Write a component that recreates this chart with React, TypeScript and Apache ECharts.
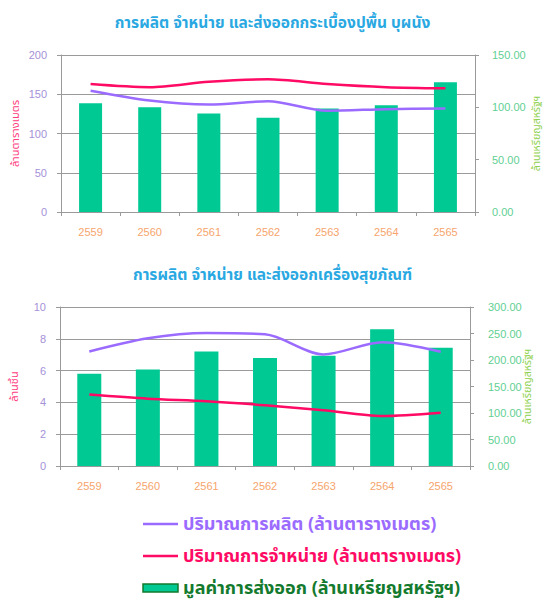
import React, { useEffect, useRef } from "react";
import * as echarts from "echarts";

const years = ["2559", "2560", "2561", "2562", "2563", "2564", "2565"];

// Chart 1: tiles (กระเบื้องปูพื้น บุผนัง)
const tileProduction = [154.5, 142, 137, 141, 129, 131, 132];
const tileSales = [163, 159, 166, 169, 163, 159, 157.5];
const tileExport = [104, 100, 94, 90, 99, 102, 124];

// Chart 2: sanitary ware (เครื่องสุขภัณฑ์)
const sanProduction = [7.2, 8.03, 8.36, 8.28, 7.02, 7.78, 7.19];
const sanSales = [4.49, 4.23, 4.07, 3.82, 3.5, 3.14, 3.35];
const sanExport = [174, 182, 216, 204, 208, 258, 223];

const leftTicks1 = { min: 0, max: 200, interval: 50 };
const rightTicks1 = { min: 0, max: 150, interval: 50 };
const leftTicks2 = { min: 0, max: 10, interval: 2 };
const rightTicks2 = { min: 0, max: 300, interval: 50 };

const title1 = "การผลิต จำหน่าย และส่งออกกระเบื้องปูพื้น บุผนัง";
const title2 = "การผลิต จำหน่าย และส่งออกเครื่องสุขภัณฑ์";
const nameProd = "ปริมาณการผลิต (ล้านตารางเมตร)";
const nameSales = "ปริมาณการจำหน่าย (ล้านตารางเมตร)";
const nameExport = "มูลค่าการส่งออก (ล้านเหรียญสหรัฐฯ)";
const leftName1 = "ล้านตารางเมตร";
const leftName2 = "ล้านชิ้น";
const rightName = "ล้านเหรียญสหรัฐฯ";

const FONT = "'Liberation Sans', Arial, sans-serif";
const THAI = "Tahoma, 'Noto Sans Thai', 'Loma', 'Garuda', sans-serif";
const PURPLE = "#9b6bff";
const PINK = "#ff0a64";
const BAR = "#00c994";
const DARKGREEN = "#137a2e";
const GRAY = "#9a9a9a";

function xAxis(gridIndex: number) {
  return {
    type: "category",
    gridIndex,
    data: years,
    boundaryGap: true,
    axisLine: { lineStyle: { color: GRAY } },
    axisTick: { show: true, length: 4, lineStyle: { color: GRAY } },
    axisLabel: { color: "#f6a56c", fontSize: 11, fontFamily: FONT, margin: 14 },
  };
}

function leftAxis(gridIndex: number, t: any, name: string) {
  return {
    type: "value",
    gridIndex,
    position: "left",
    min: t.min,
    max: t.max,
    interval: t.interval,
    name,
    nameLocation: "middle",
    nameGap: 40,
    nameMoveOverlap: false,
    nameTextStyle: { color: "#ff3d7f", fontSize: 11, fontFamily: THAI },
    axisLine: { show: true, lineStyle: { color: GRAY } },
    axisTick: { show: true, length: 4, lineStyle: { color: GRAY } },
    axisLabel: { color: "#a591d8", fontSize: 11, fontFamily: FONT, margin: 14 },
    splitLine: { show: true, lineStyle: { color: GRAY, width: 1 } },
  };
}

function rightAxis(gridIndex: number, t: any, nameGap: number, margin: number) {
  return {
    type: "value",
    gridIndex,
    position: "right",
    min: t.min,
    max: t.max,
    interval: t.interval,
    name: rightName,
    nameLocation: "middle",
    nameGap,
    nameMoveOverlap: false,
    nameTextStyle: { color: "#8fd14f", fontSize: 10.5, lineHeight: 11, fontFamily: THAI },
    axisLine: { show: true, lineStyle: { color: GRAY } },
    axisTick: { show: true, length: 4, lineStyle: { color: GRAY } },
    axisLabel: {
      color: "#5fd093",
      fontSize: 11,
      fontFamily: FONT,
      margin,
      formatter: (v: number) => v.toFixed(2),
    },
    splitLine: { show: false },
  };
}

const legendRows = [
  { name: nameProd, kind: "line", color: PURPLE, text: PURPLE, y: 524 },
  { name: nameSales, kind: "line", color: PINK, text: PINK, y: 556 },
  { name: nameExport, kind: "rect", color: BAR, text: DARKGREEN, y: 588 },
];

export default function App() {
  const ref = useRef<HTMLDivElement>(null);
  useEffect(() => {
    document.body.style.margin = "0";
    if (!ref.current) return;
    const chart = echarts.init(ref.current, null, { renderer: "svg" });
    const lineCommon = { type: "line", smooth: 0.3, symbol: "none", showSymbol: false, z: 3 };

    const legendGraphics: any[] = [];
    legendRows.forEach((r) => {
      if (r.kind === "line") {
        legendGraphics.push({
          type: "line",
          shape: { x1: 143, y1: r.y, x2: 178, y2: r.y },
          style: { stroke: r.color, lineWidth: 2.5 },
        });
      } else {
        legendGraphics.push({
          type: "rect",
          shape: { x: 143, y: r.y - 4, width: 35, height: 8 },
          style: { fill: r.color, stroke: DARKGREEN, lineWidth: 1.5 },
        });
      }
      legendGraphics.push({
        type: "text",
        x: 183,
        y: r.y,
        style: {
          text: r.name,
          fill: r.text,
          fontSize: 18,
          fontWeight: "bold",
          fontFamily: THAI,
          verticalAlign: "middle",
          align: "left",
        },
      });
    });

    chart.setOption({
      animation: false,
      backgroundColor: "#ffffff",
      title: [
        {
          text: title1,
          left: "center",
          top: 10,
          textStyle: { color: "#2aa8e2", fontSize: 15.5, fontWeight: "bold", fontFamily: THAI },
        },
        {
          text: title2,
          left: "center",
          top: 262,
          textStyle: { color: "#2aa8e2", fontSize: 15.5, fontWeight: "bold", fontFamily: THAI },
        },
      ],
      graphic: legendGraphics,
      grid: [
        { left: 61, right: 70, top: 55, height: 157, outerBoundsMode: "none", containLabel: false },
        { left: 60, right: 75, top: 307, height: 159, outerBoundsMode: "none", containLabel: false },
      ],
      xAxis: [xAxis(0), xAxis(1)],
      yAxis: [
        leftAxis(0, leftTicks1, leftName1),
        rightAxis(0, rightTicks1, 56, 17),
        leftAxis(1, leftTicks2, leftName2),
        rightAxis(1, rightTicks2, 52, 18),
      ],
      series: [
        {
          name: nameExport,
          type: "bar",
          xAxisIndex: 0,
          yAxisIndex: 1,
          data: tileExport,
          barWidth: 23,
          itemStyle: { color: BAR },
        },
        {
          ...lineCommon,
          name: nameProd,
          xAxisIndex: 0,
          yAxisIndex: 0,
          data: tileProduction,
          lineStyle: { color: PURPLE, width: 2.5 },
          itemStyle: { color: PURPLE },
        },
        {
          ...lineCommon,
          name: nameSales,
          xAxisIndex: 0,
          yAxisIndex: 0,
          data: tileSales,
          lineStyle: { color: PINK, width: 2.5 },
          itemStyle: { color: PINK },
        },
        {
          name: nameExport,
          type: "bar",
          xAxisIndex: 1,
          yAxisIndex: 3,
          data: sanExport,
          barWidth: 24,
          itemStyle: { color: BAR },
        },
        {
          ...lineCommon,
          name: nameProd,
          xAxisIndex: 1,
          yAxisIndex: 2,
          data: sanProduction,
          lineStyle: { color: PURPLE, width: 2.5 },
          itemStyle: { color: PURPLE },
        },
        {
          ...lineCommon,
          name: nameSales,
          xAxisIndex: 1,
          yAxisIndex: 2,
          data: sanSales,
          lineStyle: { color: PINK, width: 2.5 },
          itemStyle: { color: PINK },
        },
      ],
    });
    return () => chart.dispose();
  }, []);
  return <div ref={ref} style={{ width: 545, height: 600 }} />;
}
